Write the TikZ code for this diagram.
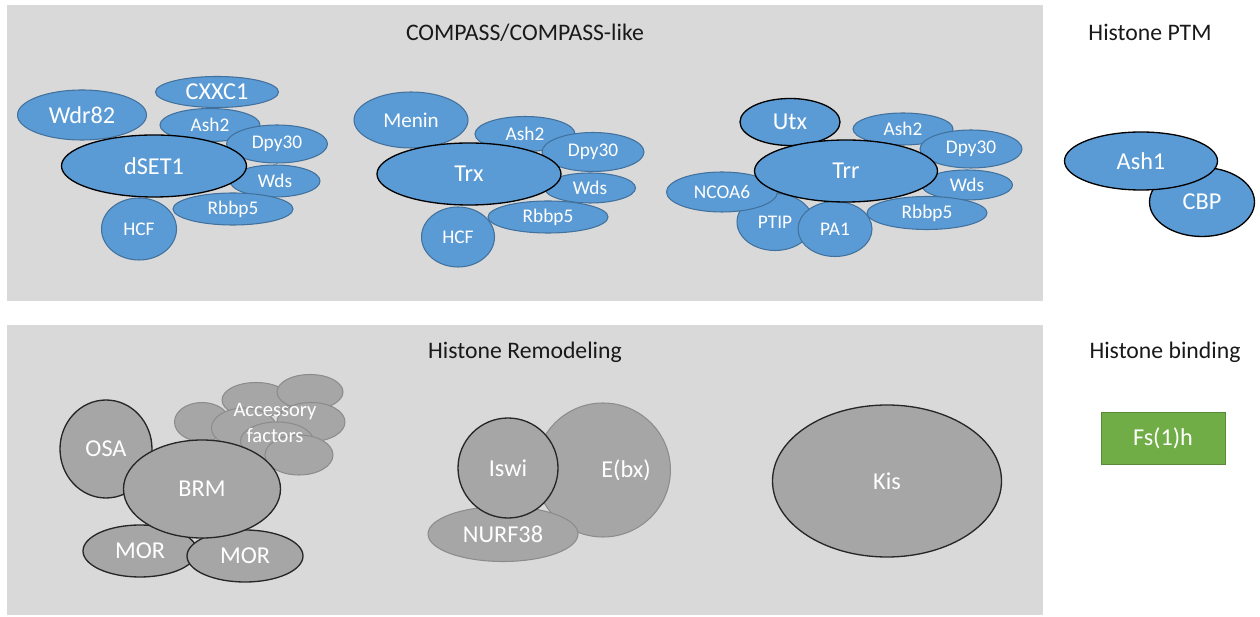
\documentclass[tikz,border=0pt]{standalone}
\usepackage{fontspec}
\setmainfont{Carlito}
\usepackage{tikz}
\usetikzlibrary{shapes.geometric}
\definecolor{panelgray}{HTML}{D9D9D9}
\definecolor{protblue}{HTML}{5B9BD5}
\definecolor{protbluedraw}{HTML}{41719C}
\definecolor{protgray}{HTML}{A6A6A6}
\definecolor{protgraydraw}{HTML}{8C8C8C}
\definecolor{fsgreen}{HTML}{70AD47}
\tikzset{
  sz/.style 2 args={minimum width=#1*0.02cm, minimum height=#2*0.02cm},
  prot/.style={ellipse, inner sep=0pt, text=white, font=\fontsize{11}{13}\selectfont},
  protb/.style={prot, fill=protblue, draw=protbluedraw, line width=0.6pt},
  protbk/.style={protb, draw=black, line width=0.75pt},
  protg/.style={prot, fill=protgray, draw=protgraydraw, line width=0.6pt},
  protgk/.style={protg, draw=black!85, line width=0.75pt},
  big/.style={font=\fontsize{13.8}{16}\selectfont},
  title/.style={anchor=base, text=black!90, font=\fontsize{13.5}{16}\selectfont}
}
\begin{document}
\begin{tikzpicture}[x=0.02cm, y=-0.02cm]
\useasboundingbox (0,0) rectangle (1260,617);
\fill[panelgray] (7,5) rectangle (1043,301);
\fill[panelgray] (7,325) rectangle (1043,615);

\node[title](tcompass) at (525,41) {COMPASS/COMPASS-like};
\node[title](tptm) at (1150,41) {Histone PTM};
\node[title](tremod) at (525,359) {Histone Remodeling};
\node[title](tbind) at (1165,359) {Histone binding};

% dSET1 complex
\node[protb, big, sz={129}{50}](wdr) at (82,115) {Wdr82};
\node[protb, big, sz={123}{31}](cxxc) at (217,92) {CXXC1};
\node[protb, sz={100}{33}](ashA) at (210,125) {Ash2};
\node[protb, sz={101}{38}](dpyA) at (277,144) {Dpy30};
\node[protb, sz={90}{32}](wdsA) at (275,181) {Wds};
\node[protb, sz={75}{62}](hcfA) at (139,229) {HCF};
\node[protb, sz={120}{32}](rbbA) at (233,209) {Rbbp5};
\node[protbk, big, sz={185}{62}](dset) at (154,166) {dSET1};

% Trx complex
\node[protb, font=\fontsize{12}{14}\selectfont, sz={114}{56}](menin) at (411,120) {Menin};
\node[protb, sz={100}{35}](ashB) at (525,134) {Ash2};
\node[protb, sz={102}{39}](dpyB) at (593,152) {Dpy30};
\node[protb, sz={91}{30}](wdsB) at (590,188) {Wds};
\node[protb, sz={73}{60}](hcfB) at (458,237) {HCF};
\node[protb, sz={120}{32}](rbbB) at (548,217) {Rbbp5};
\node[protbk, big, sz={184}{62}](trx) at (469,174) {Trx};

% Trr complex
\node[protb, sz={100}{32}](ashC) at (903,129) {Ash2};
\node[protb, sz={102}{38}](dpyC) at (971,149) {Dpy30};
\node[protb, sz={91}{30}](wdsC) at (967,185) {Wds};
\node[protb, sz={120}{33}](rbbC) at (927,213) {Rbbp5};
\node[protb, sz={76}{57}](ptip) at (775,222) {PTIP};
\node[protb, sz={74}{55}](pa) at (835,229) {PA1};
\node[protb, sz={111}{40}](ncoa) at (722,192) {NCOA6};
\node[protbk, big, sz={100}{47}](utx) at (790,122) {Utx};
\node[protbk, big, sz={183}{62}](trr) at (846,171) {Trr};

% Histone PTM
\node[protbk, big, sz={105}{69}](cbp) at (1202,202) {CBP};
\node[protbk, big, sz={153}{58}](ash1) at (1141,161) {Ash1};

% BRM complex
\node[protg, sz={55}{39}](accA) at (202,422) {};
\node[protg, sz={68}{35}](accB) at (256,400) {};
\node[protg, sz={66}{35}](accC) at (310,392) {};
\node[protg, sz={65}{40}](accD) at (244,428) {};
\node[protg, sz={68}{39}](accE) at (311,422) {};
\node[protg, sz={73}{38}](accF) at (277,441) {};
\node[protg, sz={68}{40}](accG) at (299,455) {};
\node[align=center, text=white, font=\fontsize{11.7}{14.5}\selectfont](acc) at (275,423) {Accessory\\factors};
\node[protgk, big, sz={92}{98}](osa) at (106,449) {OSA};
\node[protgk, big, sz={114}{52}](morA) at (140,551) {MOR};
\node[protgk, big, sz={116}{52}](morB) at (245,556) {MOR};
\node[protgk, big, sz={157}{98}](brm) at (202,489) {BRM};

% NURF complex
\node[protg, big, sz={127}{134}](ebx) at (603,470) {\hspace{1.9em}E(bx)};
\node[protg, big, sz={150}{55}](nurf) at (503,534) {NURF38};
\node[protgk, big, sz={100}{100}](iswi) at (508,468) {Iswi};

\node[protgk, big, sz={229}{152}](kis) at (887,481) {Kis};

% Histone binding
\node[rectangle, fill=fsgreen, draw=fsgreen!80!black, line width=0.4pt, text=white,
  inner sep=0pt, big, sz={124}{52}](fsh) at (1163,438) {Fs(1)h};
\end{tikzpicture}
\end{document}
